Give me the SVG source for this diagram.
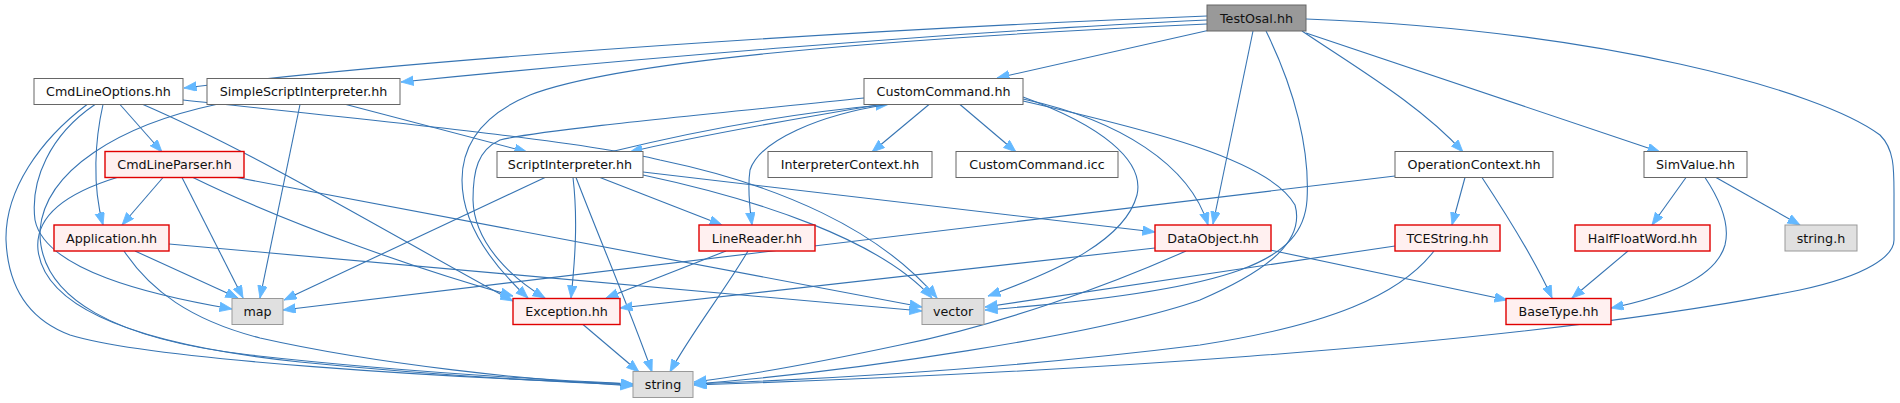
<svg xmlns="http://www.w3.org/2000/svg" width="1900" height="403" viewBox="0 0 1900 403">
<defs>
<style>
.n rect{stroke-width:1}
.w rect{fill:#ffffff;stroke:#666666}
.r rect{fill:#fff0f0;stroke:#e00000;stroke-width:1.4}
.g rect{fill:#e0e0e0;stroke:#999999}
.t rect{fill:#999999;stroke:#666666}
text{font-family:"DejaVu Sans","Liberation Sans",sans-serif;font-size:12.7px;fill:#111;text-anchor:middle}
#edges path{fill:none;stroke:#3674b3;stroke-width:1.1;marker-end:url(#ah)}
</style>
<marker id="ah" markerUnits="userSpaceOnUse" markerWidth="14" markerHeight="11" refX="12.5" refY="4.75" orient="auto">
<path d="M0,0 L12.5,4.75 L0,9.5 z" fill="#63b8ff" stroke="#63b8ff" stroke-width="0.8"/>
</marker>
</defs>
<rect width="1900" height="403" fill="#ffffff"/>
<g id="edges">
<path d="M1207,16 C950,26 480,52 184,88"/>
<path d="M1207,20 C950,32 620,60 401,82"/>
<path d="M1210,30 L997,78"/>
<path d="M1207,24 C900,38 620,60 530,95 C482,115 462,145 462,180 C462,230 500,272 528,298"/>
<path d="M1253,31 L1213,224"/>
<path d="M1266,31 C1295,90 1310,150 1307,200 C1303,260 1240,290 985,310"/>
<path d="M1302,31 C1360,70 1420,105 1463,152"/>
<path d="M1306,33 L1660,152"/>
<path d="M1306,19 C1600,30 1820,90 1880,135 C1895,150 1894,170 1894,200 L1894,240 C1894,255 1870,275 1800,290 C1500,350 1000,375 694,385"/>
<path d="M120,104.5 L162,152"/>
<path d="M103,104.5 C95,140 92,185 103,225"/>
<path d="M95,104.5 C50,135 30,180 35,220 C45,270 150,295 232,309"/>
<path d="M87,104.5 C40,140 5,190 6,240 C8,290 30,320 70,335 C150,360 450,378 633,384"/>
<path d="M143,104.5 C260,155 400,240 513,301"/>
<path d="M183,100 C350,118 580,140 660,160 C780,185 880,230 937,298"/>
<path d="M346,104.5 L527,152"/>
<path d="M300,104.5 L260,298"/>
<path d="M216,104.5 C120,125 45,170 40,230 C38,300 120,340 250,355 C400,372 550,380 633,384"/>
<path d="M163,177.5 L122,225"/>
<path d="M182,177.5 L243,298"/>
<path d="M193,177.5 C290,225 420,270 513,296"/>
<path d="M237,177.5 L922,307"/>
<path d="M117,177.5 C60,195 35,220 38,250 C45,310 140,345 300,362 C450,377 560,382 633,385"/>
<path d="M135,251 L238,298"/>
<path d="M169,244 L922,311"/>
<path d="M124,251 C150,290 190,320 260,338 C380,365 530,380 633,386"/>
<path d="M610,152 C700,130 800,112 888,104.5"/>
<path d="M880,104.5 C800,118 700,135 630,152"/>
<path d="M545,177.5 L284,300"/>
<path d="M573,177.5 C578,220 575,260 571,298"/>
<path d="M576,177.5 C600,240 630,310 652,372"/>
<path d="M600,177.5 L722,225"/>
<path d="M643,175 C760,200 880,240 932,298"/>
<path d="M643,172 L1155,232"/>
<path d="M929,104.5 L872,152"/>
<path d="M960,104.5 L1016,152"/>
<path d="M864,98 C700,115 540,130 500,140 C478,150 473,170 473,200 C474,245 515,280 545,298"/>
<path d="M887,104.5 C820,115 760,140 750,170 C747,190 750,210 752,225"/>
<path d="M1023,97 C1100,125 1145,160 1137,195 C1125,240 1060,270 988,296"/>
<path d="M1023,99 C1120,120 1190,165 1208,225"/>
<path d="M1023,101 C1150,130 1270,160 1295,205 C1305,240 1270,270 1200,300 C1100,335 850,372 694,384"/>
<path d="M726,251 L606,298"/>
<path d="M748,251 C725,290 690,335 670,372"/>
<path d="M1155,248 L620,308"/>
<path d="M1186,251 C1110,285 1000,325 900,345 C820,362 750,375 694,382"/>
<path d="M1270,250 L1507,300"/>
<path d="M1395,246 L985,307"/>
<path d="M1434,251 C1400,295 1330,325 1200,345 C1000,370 800,380 694,384"/>
<path d="M1395,176 L283,310"/>
<path d="M1465,177.5 L1452,225"/>
<path d="M1482,177.5 C1510,220 1535,260 1552,298"/>
<path d="M1686,177.5 L1652,225"/>
<path d="M1705,177.5 C1720,200 1730,225 1725,245 C1715,280 1660,298 1611,308"/>
<path d="M1716,177.5 L1800,225"/>
<path d="M1628,251 L1572,298"/>
<path d="M583,324.5 L639,372"/>
</g>
<g id="TestOsal" class="n t"><rect x="1207" y="5" width="99" height="26"/><text x="1256.5" y="22.5">TestOsal.hh</text></g>
<g id="CmdLineOptions" class="n w"><rect x="34" y="78.5" width="149" height="26"/><text x="108.5" y="96">CmdLineOptions.hh</text></g>
<g id="SimpleScriptInterpreter" class="n w"><rect x="207" y="78.5" width="193" height="26"/><text x="303.5" y="96">SimpleScriptInterpreter.hh</text></g>
<g id="CustomCommand" class="n w"><rect x="864" y="78.5" width="159" height="26"/><text x="943.5" y="96">CustomCommand.hh</text></g>
<g id="CmdLineParser" class="n r"><rect x="105" y="151.5" width="139" height="26"/><text x="174.5" y="169">CmdLineParser.hh</text></g>
<g id="ScriptInterpreter" class="n w"><rect x="497" y="151.5" width="146" height="26"/><text x="570" y="169">ScriptInterpreter.hh</text></g>
<g id="InterpreterContext" class="n w"><rect x="768" y="151.5" width="164" height="26"/><text x="850" y="169">InterpreterContext.hh</text></g>
<g id="CustomCommandIcc" class="n w"><rect x="956" y="151.5" width="162" height="26"/><text x="1037" y="169">CustomCommand.icc</text></g>
<g id="OperationContext" class="n w"><rect x="1395" y="151.5" width="158" height="26"/><text x="1474" y="169">OperationContext.hh</text></g>
<g id="SimValue" class="n w"><rect x="1644" y="151.5" width="103" height="26"/><text x="1695.5" y="169">SimValue.hh</text></g>
<g id="Application" class="n r"><rect x="54" y="225" width="115" height="26"/><text x="111.5" y="242.5">Application.hh</text></g>
<g id="LineReader" class="n r"><rect x="699" y="225" width="116" height="26"/><text x="757" y="242.5">LineReader.hh</text></g>
<g id="DataObject" class="n r"><rect x="1155" y="225" width="116" height="26"/><text x="1213" y="242.5">DataObject.hh</text></g>
<g id="TCEString" class="n r"><rect x="1395" y="225" width="105" height="26"/><text x="1447.5" y="242.5">TCEString.hh</text></g>
<g id="HalfFloatWord" class="n r"><rect x="1575" y="225" width="135" height="26"/><text x="1642.5" y="242.5">HalfFloatWord.hh</text></g>
<g id="stringh" class="n g"><rect x="1785" y="225" width="72" height="26"/><text x="1821" y="242.5">string.h</text></g>
<g id="map" class="n g"><rect x="232" y="298.5" width="51" height="26"/><text x="257.5" y="316">map</text></g>
<g id="Exception" class="n r"><rect x="513" y="298.5" width="107" height="26"/><text x="566.5" y="316">Exception.hh</text></g>
<g id="vector" class="n g"><rect x="922" y="298.5" width="62" height="26"/><text x="953" y="316">vector</text></g>
<g id="BaseType" class="n r"><rect x="1506" y="298.5" width="105" height="26"/><text x="1558.5" y="316">BaseType.hh</text></g>
<g id="string" class="n g"><rect x="633" y="371.5" width="60" height="26"/><text x="663" y="389">string</text></g>
</svg>
